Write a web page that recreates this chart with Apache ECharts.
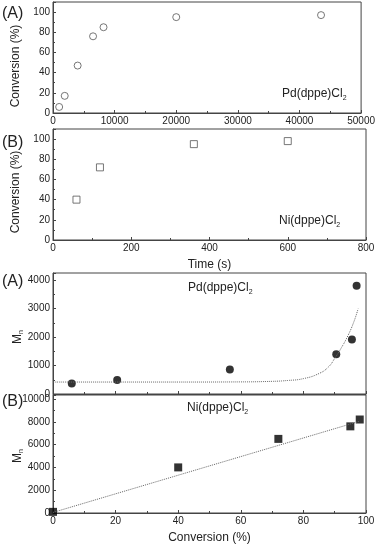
<!DOCTYPE html>
<html>
<head>
<meta charset="utf-8">
<script src="https://cdn.jsdelivr.net/npm/echarts@6/dist/echarts.min.js"></script>
<style>
html, body { margin: 0; padding: 0; background: #fff; }
#chart { width: 378px; height: 545px; }
</style>
</head>
<body>
<div id="chart"></div>
<script>
// conversion vs time, Pd(dppe)Cl2
var pdTime = [1000, 1900, 4000, 6500, 8200, 20000, 43500];
var pdConvTime = [6, 17, 47, 76, 85, 95, 97];
// conversion vs time, Ni(dppe)Cl2
var niTime = [60, 120, 360, 600];
var niConvTime = [40, 72, 95, 98];
// Mn vs conversion, Pd
var pdConv = [6, 20.5, 56.5, 90.5, 95.5, 97];
var pdMn = [370, 490, 860, 1400, 1910, 3800];
// dotted fit
var pdFitX = [0, 20, 40, 60, 70, 75, 80, 85, 88, 90, 92, 94, 96, 97.5];
var pdFitY = [420, 420, 420, 425, 445, 475, 540, 720, 950, 1250, 1600, 2000, 2500, 3000];
// Mn vs conversion, Ni
var niConv = [0, 40, 72, 95, 98];
var niMn = [100, 4000, 6500, 7600, 8200];
var niFitX = [0, 98];
var niFitY = [50, 8050];

var FONT = "Liberation Sans";
var chart = echarts.init(document.getElementById("chart"));

function pairs(xs, ys) {
  return xs.map(function (x, i) { return [x, ys[i]]; });
}

function plain(v) { return String(v); }

function xAx(idx, max, interval, showLabel, name) {
  return {
    gridIndex: idx, type: "value", min: 0, max: max, interval: interval,
    name: name || "", nameLocation: "middle", nameGap: 19,
    nameTextStyle: { fontFamily: FONT, fontSize: 12, color: "#222" },
    axisLine: { lineStyle: { color: "#444", width: 1 } },
    axisTick: { inside: true, length: 3, lineStyle: { color: "#444" } },
    minorTick: { show: true, splitNumber: 2, length: 2, lineStyle: { color: "#444" } },
    splitLine: { show: false },
    axisLabel: { show: showLabel, formatter: plain, fontFamily: FONT, fontSize: 10, color: "#222", margin: 3 }
  };
}

function yAx(idx, max, interval) {
  return {
    gridIndex: idx, type: "value", min: 0, max: max, interval: interval,
    axisLine: { lineStyle: { color: "#444", width: 1 } },
    axisTick: { inside: true, length: 3, lineStyle: { color: "#444" } },
    minorTick: { show: true, splitNumber: 2, length: 2, lineStyle: { color: "#444" } },
    splitLine: { show: false },
    axisLabel: { formatter: plain, fontFamily: FONT, fontSize: 10, color: "#222", margin: 3, showMaxLabel: false }
  };
}

// rotated y-axis title
function yName(x, y, text) {
  return {
    type: "text", x: x, y: y, rotation: Math.PI / 2, z: 100,
    style: {
      text: text, align: "center", verticalAlign: "middle",
      rich: {
        a: { fontFamily: FONT, fontSize: 12, fill: "#222" },
        s: { fontFamily: FONT, fontSize: 7, fill: "#222", padding: [7, 0, 0, 0] }
      }
    }
  };
}

function label(x, y, main, sub) {
  return {
    type: "text", left: x, top: y, z: 100,
    style: {
      text: "{a|" + main + "}{s|" + sub + "}",
      rich: {
        a: { fontFamily: FONT, fontSize: 12, fill: "#222" },
        s: { fontFamily: FONT, fontSize: 7, fill: "#222", padding: [8, 0, 0, 0] }
      }
    }
  };
}

function tag(y, text) {
  return { type: "text", left: 2, top: y, z: 100,
    style: { text: text, fontFamily: FONT, fontSize: 16, fill: "#222" } };
}

var gridBase = { left: 53, right: 12, show: true, borderColor: "#444", borderWidth: 1 };

var option = {
  animation: false,
  grid: [
    Object.assign({ top: 2, height: 111 }, gridBase),
    Object.assign({ top: 129, height: 111 }, gridBase),
    Object.assign({ top: 273, height: 121 }, gridBase),
    Object.assign({ top: 395, height: 119 }, gridBase)
  ],
  xAxis: [
    xAx(0, 50000, 10000, true),
    xAx(1, 800, 200, true, "Time (s)"),
    xAx(2, 100, 20, false),
    xAx(3, 100, 20, true, "Conversion (%)")
  ],
  yAxis: [
    yAx(0, 110, 20),
    yAx(1, 110, 20),
    yAx(2, 4250, 1000),
    yAx(3, 10350, 2000)
  ],
  series: [
    {
      type: "scatter", xAxisIndex: 0, yAxisIndex: 0, symbol: "circle", symbolSize: 7,
      itemStyle: { color: "#fff", borderColor: "#555", borderWidth: 1 },
      data: pairs(pdTime, pdConvTime)
    },
    {
      type: "scatter", xAxisIndex: 1, yAxisIndex: 1, symbol: "rect", symbolSize: 7,
      itemStyle: { color: "#fff", borderColor: "#555", borderWidth: 1 },
      data: pairs(niTime, niConvTime)
    },
    {
      type: "line", xAxisIndex: 2, yAxisIndex: 2, smooth: true, showSymbol: false,
      lineStyle: { type: "dotted", color: "#666", width: 1 },
      data: pairs(pdFitX, pdFitY)
    },
    {
      type: "scatter", xAxisIndex: 2, yAxisIndex: 2, symbol: "circle", symbolSize: 8,
      itemStyle: { color: "#000" },
      data: pairs(pdConv, pdMn)
    },
    {
      type: "line", xAxisIndex: 3, yAxisIndex: 3, showSymbol: false,
      lineStyle: { type: "dotted", color: "#666", width: 1 },
      data: pairs(niFitX, niFitY)
    },
    {
      type: "scatter", xAxisIndex: 3, yAxisIndex: 3, symbol: "rect", symbolSize: 8,
      itemStyle: { color: "#000" },
      data: pairs(niConv, niMn)
    }
  ],
  graphic: [
    tag(6, "(A)"),
    tag(135, "(B)"),
    tag(274, "(A)"),
    tag(394, "(B)"),
    yName(16, 66, "{a|Conversion (%)}"),
    yName(16, 192, "{a|Conversion (%)}"),
    yName(18, 337, "{a|M}{s|n}"),
    yName(18, 456, "{a|M}{s|n}"),
    label(282, 88, "Pd(dppe)Cl", "2"),
    label(279, 215, "Ni(dppe)Cl", "2"),
    label(188, 282, "Pd(dppe)Cl", "2"),
    label(187, 402, "Ni(dppe)Cl", "2")
  ]
};

chart.setOption(option);
</script>
</body>
</html>
